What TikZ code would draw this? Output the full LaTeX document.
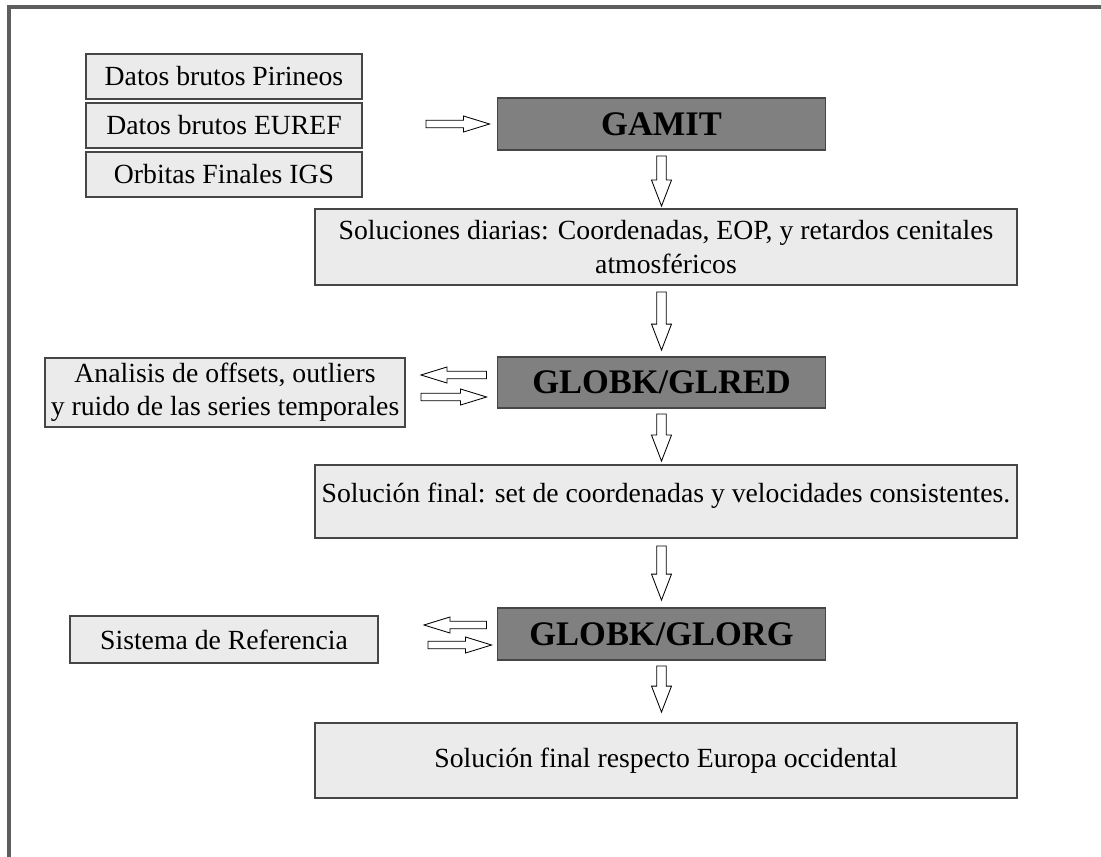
\documentclass[tikz,border=0pt]{standalone}
\usepackage{fontspec}
\setmainfont{Liberation Serif}
\usepackage{xcolor}
\usetikzlibrary{calc}

\definecolor{boxfill}{HTML}{EBEBEB}
\definecolor{progfill}{HTML}{808080}
\definecolor{boxline}{HTML}{464646}
\definecolor{framegray}{HTML}{5E5E5E}

\tikzset{
  databox/.style={draw=boxline,fill=boxfill,line width=1.3pt,inner sep=0pt,align=center,
    font=\fontsize{19.7}{23.5}\selectfont},
  progbox/.style={draw=boxline,fill=progfill,line width=1.3pt,inner sep=0pt,
    minimum width=8.2cm,minimum height=1.3cm,font=\fontsize{24.5}{28}\selectfont\bfseries},
  downarr/.style={draw=black,fill=white,line width=0.6pt,
    to path={let \p1=(\tikztostart), \p2=(\tikztotarget),
      \p3=($(\tikztotarget)!0.65cm!(\tikztostart)$) in
      ({\x1-0.117cm},\y1) -- ({\x1+0.117cm},\y1) -- ({\x1+0.117cm},\y3)
      -- ({\x1+0.25cm},\y3) -- (\x1,\y2) -- ({\x1-0.25cm},\y3)
      -- ({\x1-0.117cm},\y3) -- cycle}},
  sidearr/.style={draw=black,fill=white,line width=0.6pt,
    to path={let \p1=(\tikztostart), \p2=(\tikztotarget),
      \p3=($(\tikztotarget)!0.65cm!(\tikztostart)$) in
      (\x1,{\y1-0.095cm}) -- (\x3,{\y1-0.095cm}) -- (\x3,{\y1-0.2cm})
      -- (\x2,\y1) -- (\x3,{\y1+0.2cm}) -- (\x3,{\y1+0.095cm})
      -- (\x1,{\y1+0.095cm}) -- cycle}}
}

\begin{document}
\begin{tikzpicture}[x=0.025cm,y=-0.025cm]
  \useasboundingbox (0,0) rectangle (1101,857);
  \draw[line width=2.2pt,framegray] (9,857) -- (9,7) -- (1101,7);

  % datos de entrada
  \node[databox,minimum width=6.9cm,minimum height=1.125cm] (pir) at (224,76.5) {Datos brutos Pirineos};
  \node[databox,minimum width=6.9cm,minimum height=1.125cm] (euref) at (224,125.5) {Datos brutos EUREF};
  \node[databox,minimum width=6.9cm,minimum height=1.125cm] (orb) at (224,174.5) {Orbitas Finales IGS};

  % programas
  \node[progbox] (gamit) at (661.5,124) {GAMIT\hspace{0.6cm}};
  \node[progbox,minimum height=1.275cm] (glred) at (661.5,382.5) {GLOBK/GLRED\hspace{0.6cm}};
  \node[progbox] (glorg) at (661.5,634) {GLOBK/GLORG\hspace{0.6cm}};

  % soluciones
  \node[databox,minimum width=17.55cm,minimum height=1.9cm] (sol1) at (666,247)
    {Soluciones diarias: Coordenadas, EOP, y retardos cenitales\\atmosféricos};
  \node[databox,minimum width=17.55cm,minimum height=1.825cm,text height=15pt,text depth=13pt] (solf) at (666,501.5)
    {Solución final: set de coordenadas y velocidades consistentes.};
  \node[databox,minimum width=17.55cm,minimum height=1.875cm] (soleu) at (666,760.5)
    {Solución final respecto Europa occidental};

  % cajas laterales
  \node[databox,minimum width=9cm,minimum height=1.725cm] (anal) at (225,392.5)
    {Analisis de offsets, outliers\\y ruido de las series temporales};
  \node[databox,minimum width=7.7cm,minimum height=1.175cm] (syst) at (224,639.5) {Sistema de Referencia};

  % flechas
  \draw[sidearr] ($(euref.east)+(63,-1.5)$) to ($(gamit.west)+(-7,0)$);
  \draw[downarr] ($(gamit.south)+(0,5)$) to ($(gamit.south |- sol1.north)+(0,-2)$);
  \draw[downarr] ($(sol1.south)+(-4.5,6)$) to ($(glred.north)+(0,-6)$);
  \draw[sidearr] ($(glred.west)+(-10,-7.5)$) to ($(anal.east)+(15,-17.5)$);
  \draw[sidearr] ($(anal.east)+(15,4.5)$) to ($(glred.west)+(-10,14.5)$);
  \draw[downarr] ($(glred.south)+(0,5)$) to ($(glred.south |- solf.north)+(0,-3)$);
  \draw[downarr] ($(solf.south)+(-4.5,7)$) to ($(glorg.north)+(0,-7)$);
  \draw[sidearr] ($(glorg.west)+(-10,-9)$) to ($(syst.east)+(45,-14.5)$);
  \draw[sidearr] ($(syst.east)+(49,5.5)$) to ($(glorg.west)+(-5,11)$);
  \draw[downarr] ($(glorg.south)+(0,5)$) to ($(glorg.south |- soleu.north)+(0,-10)$);
\end{tikzpicture}
\end{document}
